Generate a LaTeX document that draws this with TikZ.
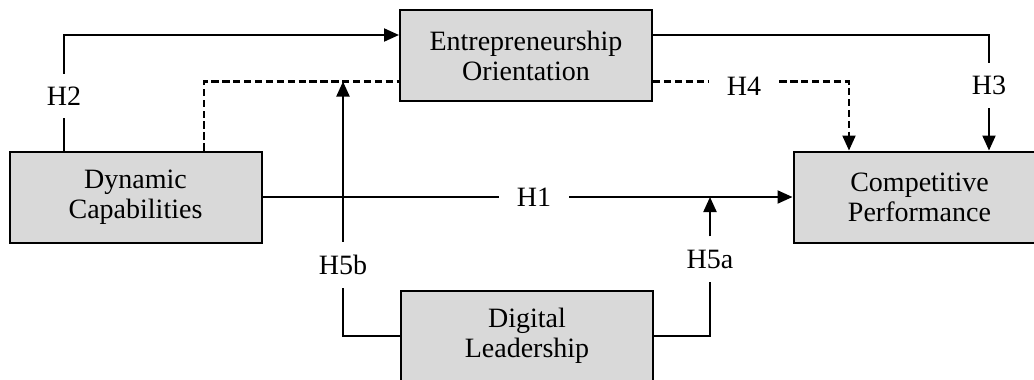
\documentclass[tikz,border=0pt]{standalone}
\usepackage{fontspec}
\setmainfont{Liberation Serif}
\usetikzlibrary{arrows.meta}
\definecolor{boxgray}{HTML}{D9D9D9}
\begin{document}
\begin{tikzpicture}[x=1pt,y=-1pt,
  box/.style={draw=black, fill=boxgray, line width=2pt, minimum width=252pt,
    minimum height=91pt, align=center, inner sep=0pt,
    font=\fontsize{28}{30}\selectfont},
  hyp/.style={inner xsep=18pt, inner ysep=13pt, font=\fontsize{28}{30}\selectfont},
  link/.style={line width=2.1pt},
  arr/.style={link, -{Triangle[length=15pt,width=13pt]}},
  dlink/.style={link, dash pattern=on 7.3pt off 3.6pt},
]
\useasboundingbox (0,0) rectangle (1034,380);
\clip (0,0) rectangle (1034,380);

% constructs
\node[box] (eo) at (526,55.5) {Entrepreneurship\\Orientation};
\node[box] (dc) at (135.5,197) {Dynamic\\Capabilities};
\node[box] (cp) at (919.5,197) {Competitive\\Performance};
\node[box] (dl) at (527,336) {Digital\\Leadership};

% hypothesis labels
\node[hyp] (h1) at (534,197) {H1};
\node[hyp] (h2) at (64,96) {H2};
\node[hyp] (h3) at (989,85.5) {H3};
\node[hyp] (h4) at (744,86) {H4};
\node[hyp] (h5a) at (710,259) {H5a};
\node[hyp] (h5b) at (343,265) {H5b};

% routing levels and columns
\coordinate (top) at (0,35);
\coordinate (mid) at (0,81.5);
\coordinate (dcol) at (204,0);
\coordinate (h4col) at (849,0);

% H1: DC -> CP
\draw[link] (dc.east) -- (h1.west);
\draw[arr] (h1.east) -- (cp.west);

% H2: DC -> EO
\draw[link] (dc.north -| h2) -- (h2.south);
\draw[arr] (h2.north) |- (eo.west |- top);

% mediation path DC -> EO (dashed)
\draw[dlink] (dc.north -| dcol) |- (eo.west |- mid);

% H3: EO -> CP
\draw[link] (eo.east |- top) -| (h3.north);
\draw[arr] (h3.south) -- (h3.south |- cp.north);

% H4: EO -> CP (dashed)
\draw[dlink] (eo.east |- mid) -- (h4.west |- mid);
\draw[dlink, -{Triangle[length=15pt,width=13pt]}] (h4.east |- mid) -| (cp.north -| h4col);

% H5a: DL moderates DC -> CP
\draw[link] (dl.east) -| (h5a.south);
\draw[arr] (h5a.north) -- (h5a.north |- dc.east);

% H5b: DL moderates DC -> EO
\draw[link] (dl.west) -| (h5b.south);
\draw[arr] (h5b.north) -- (h5b.north |- mid);
\end{tikzpicture}
\end{document}
